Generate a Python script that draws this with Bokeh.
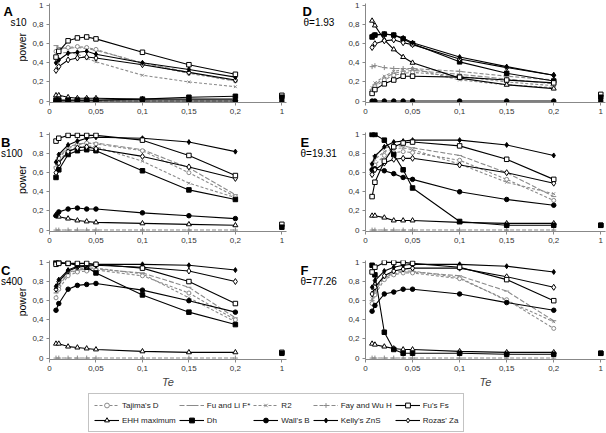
from math import pi
from bokeh.plotting import figure
from bokeh.layouts import column, row
from bokeh.models import Range1d, FixedTicker, Legend, LegendItem
from bokeh.core.properties import value
from bokeh.embed import file_html
from bokeh.resources import INLINE

# ---------------- data ----------------
TE = [0.007, 0.01, 0.02, 0.03, 0.04, 0.05, 0.1, 0.15, 0.2]
TE_ONE_POS = 0.25          # Te = 1 is drawn after a break in the axis
X_TICKS = [0, 0.05, 0.1, 0.15, 0.2, 0.25]
X_TICK_LABELS = ["0", "0,05", "0,1", "0,15", "0,2", "1"]
Y_TICKS = [0, 0.2, 0.4, 0.6, 0.8, 1.0]
Y_TICK_LABELS = ["0", "0,2", "0,4", "0,6", "0,8", "1"]

PANELS = ["A", "B", "C", "D", "E", "F"]
PANEL_TITLES = ["s10", "s100", "s400", "θ=1.93", "θ=19.31", "θ=77.26"]
Y_LABEL = "power"
X_LABEL = "Te"

TAJIMA = {
    "A": [0.52, 0.54, 0.56, 0.57, 0.56, 0.54, 0.39, 0.29, 0.21],
    "B": [0.65, 0.75, 0.86, 0.89, 0.91, 0.90, 0.83, 0.60, 0.35],
    "C": [0.63, 0.72, 0.86, 0.90, 0.91, 0.92, 0.86, 0.68, 0.40],
    "D": [0.10, 0.15, 0.22, 0.27, 0.29, 0.30, 0.26, 0.20, 0.16],
    "E": [0.60, 0.68, 0.78, 0.81, 0.82, 0.81, 0.73, 0.53, 0.31],
    "F": [0.57, 0.66, 0.82, 0.87, 0.89, 0.89, 0.83, 0.61, 0.31],
}
FULI = {
    "A": [0.58, 0.56, 0.55, 0.56, 0.55, 0.53, 0.40, 0.30, 0.21],
    "B": [0.66, 0.76, 0.87, 0.90, 0.91, 0.91, 0.84, 0.65, 0.37],
    "C": [0.68, 0.76, 0.88, 0.92, 0.93, 0.93, 0.89, 0.74, 0.42],
    "D": [0.12, 0.17, 0.24, 0.29, 0.31, 0.32, 0.28, 0.23, 0.18],
    "E": [0.70, 0.78, 0.86, 0.88, 0.88, 0.86, 0.78, 0.60, 0.35],
    "F": [0.60, 0.70, 0.84, 0.88, 0.90, 0.90, 0.86, 0.70, 0.39],
}
R2 = {
    "A": [0.45, 0.50, 0.51, 0.49, 0.45, 0.41, 0.27, 0.20, 0.15],
    "B": [0.62, 0.72, 0.83, 0.87, 0.88, 0.87, 0.72, 0.49, 0.34],
    "C": [0.70, 0.78, 0.89, 0.93, 0.94, 0.94, 0.88, 0.63, 0.38],
    "D": [0.14, 0.19, 0.26, 0.31, 0.33, 0.34, 0.22, 0.17, 0.14],
    "E": [0.66, 0.74, 0.82, 0.85, 0.86, 0.84, 0.69, 0.50, 0.38],
    "F": [0.62, 0.72, 0.85, 0.89, 0.91, 0.91, 0.84, 0.60, 0.38],
}
FWH = {
    "A": [0.0, 0.0, 0.0, 0.0, 0.0, 0.0, 0.0, 0.0, 0.0],
    "B": [0.0, 0.0, 0.0, 0.0, 0.0, 0.0, 0.0, 0.0, 0.0],
    "C": [0.0, 0.0, 0.0, 0.0, 0.0, 0.0, 0.0, 0.0, 0.0],
    "D": [0.36, 0.37, 0.35, 0.34, 0.34, 0.34, 0.31, 0.26, 0.22],
    "E": [0.0, 0.0, 0.0, 0.0, 0.0, 0.0, 0.0, 0.0, 0.0],
    "F": [0.0, 0.0, 0.0, 0.0, 0.0, 0.0, 0.0, 0.0, 0.0],
}
FS = {
    "A": [0.46, 0.52, 0.63, 0.66, 0.67, 0.65, 0.51, 0.38, 0.28],
    "B": [0.93, 0.96, 0.99, 0.99, 0.99, 0.99, 0.94, 0.78, 0.57],
    "C": [0.98, 0.99, 0.99, 0.99, 0.99, 0.98, 0.94, 0.80, 0.57],
    "D": [0.08, 0.12, 0.18, 0.22, 0.26, 0.26, 0.25, 0.22, 0.19],
    "E": [0.35, 0.50, 0.72, 0.87, 0.91, 0.92, 0.88, 0.74, 0.53],
    "F": [0.90, 0.95, 1.00, 1.00, 1.00, 0.99, 0.95, 0.82, 0.60],
}
EHH = {
    "A": [0.06, 0.06, 0.04, 0.03, 0.03, 0.03, 0.02, 0.02, 0.02],
    "B": [0.16, 0.14, 0.12, 0.10, 0.09, 0.08, 0.07, 0.06, 0.05],
    "C": [0.15, 0.15, 0.12, 0.11, 0.10, 0.09, 0.07, 0.06, 0.06],
    "D": [0.84, 0.79, 0.64, 0.54, 0.46, 0.40, 0.24, 0.17, 0.13],
    "E": [0.15, 0.15, 0.13, 0.10, 0.10, 0.10, 0.08, 0.07, 0.07],
    "F": [0.15, 0.14, 0.12, 0.10, 0.09, 0.09, 0.07, 0.06, 0.06],
}
DH = {
    "A": [0.01, 0.01, 0.01, 0.01, 0.01, 0.01, 0.02, 0.04, 0.05],
    "B": [0.55, 0.63, 0.79, 0.83, 0.84, 0.83, 0.62, 0.42, 0.32],
    "C": [1.00, 1.00, 0.99, 0.97, 0.95, 0.89, 0.66, 0.48, 0.35],
    "D": [0.67, 0.69, 0.70, 0.69, 0.65, 0.60, 0.41, 0.29, 0.21],
    "E": [1.00, 1.00, 0.94, 0.79, 0.63, 0.44, 0.09, 0.05, 0.05],
    "F": [0.97, 0.87, 0.27, 0.09, 0.05, 0.05, 0.05, 0.04, 0.04],
}
WALL = {
    "A": [0.0, 0.0, 0.0, 0.0, 0.0, 0.0, 0.0, 0.0, 0.0],
    "B": [0.15, 0.19, 0.22, 0.23, 0.22, 0.22, 0.18, 0.15, 0.12],
    "C": [0.50, 0.57, 0.72, 0.76, 0.77, 0.78, 0.71, 0.60, 0.48],
    "D": [0.0, 0.0, 0.0, 0.0, 0.0, 0.0, 0.0, 0.0, 0.0],
    "E": [0.63, 0.64, 0.62, 0.59, 0.55, 0.53, 0.40, 0.32, 0.26],
    "F": [0.49, 0.55, 0.67, 0.69, 0.72, 0.72, 0.67, 0.58, 0.50],
}
KELLY = {
    "A": [0.40, 0.43, 0.50, 0.51, 0.52, 0.49, 0.40, 0.33, 0.25],
    "B": [0.71, 0.79, 0.89, 0.93, 0.96, 0.97, 0.96, 0.92, 0.82],
    "C": [0.75, 0.82, 0.92, 0.96, 0.97, 0.98, 0.98, 0.97, 0.92],
    "D": [0.68, 0.69, 0.70, 0.69, 0.66, 0.61, 0.46, 0.36, 0.27],
    "E": [0.69, 0.77, 0.87, 0.92, 0.93, 0.94, 0.94, 0.89, 0.78],
    "F": [0.74, 0.81, 0.91, 0.95, 0.97, 0.98, 0.98, 0.96, 0.90],
}
ROZAS = {
    "A": [0.32, 0.36, 0.43, 0.45, 0.46, 0.45, 0.38, 0.30, 0.22],
    "B": [0.60, 0.70, 0.82, 0.86, 0.87, 0.85, 0.77, 0.66, 0.54],
    "C": [0.72, 0.80, 0.91, 0.95, 0.96, 0.97, 0.95, 0.91, 0.80],
    "D": [0.56, 0.60, 0.63, 0.64, 0.61, 0.59, 0.44, 0.35, 0.27],
    "E": [0.58, 0.63, 0.70, 0.74, 0.75, 0.75, 0.68, 0.60, 0.49],
    "F": [0.67, 0.74, 0.86, 0.91, 0.93, 0.94, 0.94, 0.85, 0.74],
}
# values at Te = 1 (isolated points)
FS_AT1 = {"A": 0.06, "B": 0.06, "C": 0.06, "D": 0.07, "E": 0.05, "F": 0.05}
DH_AT1 = {"A": 0.04, "B": 0.03, "C": 0.05, "D": 0.04, "E": 0.05, "F": 0.05}
WALL_AT1 = {"A": 0.0, "D": 0.0}

GREY = "#8a8a8a"
FONT = "Liberation Sans"

# name, data, color, dash, marker, size, fill
SERIES = [
    ("Tajima's D", TAJIMA, GREY, "3 2", "circle", 4, "white"),
    ("Fu and Li F*", FULI, GREY, "5 2", "dash", 5, GREY),
    ("R2", R2, GREY, "3 2", "x", 4, GREY),
    ("Fay and Wu H", FWH, GREY, "4 2", "cross", 5, GREY),
    ("Fu's Fs", FS, "black", "solid", "square", 4.5, "white"),
    ("EHH maximum", EHH, "black", "solid", "triangle", 5, "white"),
    ("Dh", DH, "black", "solid", "square", 4.5, "black"),
    ("Wall's B", WALL, "black", "solid", "circle", 4.5, "black"),
    ("Kelly's ZnS", KELLY, "black", "solid", "diamond", 5, "black"),
    ("Rozas' Za", ROZAS, "black", "solid", "diamond", 6, "white"),
]
DRAW_ORDER = [3, 2, 1, 0, 5, 7, 6, 9, 8, 4]
LEGEND_ORDER = [0, 5, 1, 6, 2, 7, 3, 8, 4, 9]   # column-major fill -> row-wise reading

# ---------------- layout ----------------
ROW_H = [120, 130, 143]
TOP_BORDER = [3, 12, 10]
BOTTOM_BORDER = [18, 19, 34]
LETTER_TOP = [1, 3, 3]
SUB_TOP = [16, 21, 22]
POWER_CY = [53, 62, 60]
LETTER_X_LEFT = [3, 0.5, 0.5]
SUB_X_LEFT = [10, 0.5, 0.5]
LETTER_X_RIGHT = [6, 4, 4]
SUB_X_RIGHT = [7, 4, 4]
LEFT_LABEL_W, LEFT_PANEL_W = 28, 268
RIGHT_LABEL_W, RIGHT_PANEL_W = 48, 262


def make_panel(idx):
    letter = PANELS[idx]
    right = idx >= 3
    r = idx % 3
    bottom = r == 2
    p = figure(width=RIGHT_PANEL_W if right else LEFT_PANEL_W, height=ROW_H[r],
               x_range=Range1d(0, 0.255), y_range=Range1d(-0.015, 1.02),
               toolbar_location=None, output_backend="svg",
               min_border_left=21, min_border_right=1 if right else 10,
               min_border_top=TOP_BORDER[r], min_border_bottom=BOTTOM_BORDER[r])
    p.grid.visible = False
    p.outline_line_color = None

    for ax in (p.xaxis[0], p.yaxis[0]):
        ax.axis_line_color = "#888888"
        ax.major_tick_line_color = "#888888"
        ax.minor_tick_line_color = None
        ax.major_tick_in = 0
        ax.major_tick_out = 3
        ax.major_label_text_font = FONT
        ax.major_label_text_font_size = "8px"
        ax.major_label_text_color = "#333333"
        ax.major_label_standoff = 3
    p.xaxis[0].ticker = FixedTicker(ticks=X_TICKS)
    p.xaxis[0].major_label_overrides = dict(zip(X_TICKS, X_TICK_LABELS))
    p.yaxis[0].ticker = FixedTicker(ticks=Y_TICKS)
    p.yaxis[0].major_label_overrides = dict(zip(Y_TICKS, Y_TICK_LABELS))
    if bottom:
        p.xaxis[0].axis_label = X_LABEL
        p.xaxis[0].axis_label_text_font = FONT
        p.xaxis[0].axis_label_text_font_style = "italic"
        p.xaxis[0].axis_label_text_font_size = "11px"
        p.xaxis[0].axis_label_standoff = 2

    for k in DRAW_ORDER:
        name, data, color, dash, marker, size, fill = SERIES[k]
        ys = data[letter]
        p.line(TE, ys, line_color=color, line_dash=dash, line_width=1.1)
        p.scatter(TE, ys, marker=marker, size=size, line_color=color,
                  fill_color=fill, line_width=1)

    p.scatter([TE_ONE_POS], [FS_AT1[letter]], marker="square", size=4.5,
              line_color="black", fill_color="white")
    p.scatter([TE_ONE_POS], [DH_AT1[letter]], marker="square", size=4.5,
              line_color="black", fill_color="black")
    if letter in WALL_AT1:
        p.scatter([TE_ONE_POS], [WALL_AT1[letter]], marker="circle", size=4.5,
                  line_color="black", fill_color="black")
    return p


def make_label_fig(idx):
    right = idx >= 3
    r = idx % 3
    w = RIGHT_LABEL_W if right else LEFT_LABEL_W
    h = ROW_H[r]
    f = figure(width=w, height=h, x_range=Range1d(0, w), y_range=Range1d(0, h),
               toolbar_location=None, output_backend="svg",
               x_axis_location=None, y_axis_location=None,
               min_border_left=0, min_border_right=0, min_border_top=0, min_border_bottom=0)
    f.grid.visible = False
    f.outline_line_color = None
    lx = LETTER_X_RIGHT[r] if right else LETTER_X_LEFT[r]
    sx = SUB_X_RIGHT[r] if right else SUB_X_LEFT[r]
    f.text(x=[lx], y=[h - LETTER_TOP[r]], text=[PANELS[idx]],
           text_font=value(FONT), text_font_style="bold", text_font_size="13px",
           text_baseline="top", text_color="black")
    f.text(x=[sx], y=[h - SUB_TOP[r]], text=[PANEL_TITLES[idx]],
           text_font=value(FONT), text_font_size="10px", text_baseline="top",
           text_color="black")
    if not right:
        f.text(x=[21.5], y=[h - POWER_CY[r]], text=[Y_LABEL], angle=pi / 2,
               text_font=value(FONT), text_font_size="10.5px",
               text_align="center", text_baseline="middle", text_color="black")
    return f


panels = [make_panel(i) for i in range(6)]
labels = [make_label_fig(i) for i in range(6)]

# legend figure
lg = figure(width=606, height=40, x_range=Range1d(0, 1), y_range=Range1d(0, 1),
            toolbar_location=None, output_backend="svg",
            x_axis_location=None, y_axis_location=None,
            min_border_left=0, min_border_right=0, min_border_top=0, min_border_bottom=0)
lg.grid.visible = False
lg.outline_line_color = None
items = []
for k in LEGEND_ORDER:
    name, data, color, dash, marker, size, fill = SERIES[k]
    lr = lg.line([-10, -9], [-10, -9], line_color=color, line_dash=dash, line_width=1.1)
    sr = lg.scatter([-10], [-10], marker=marker, size=size, line_color=color,
                    fill_color=fill, line_width=1)
    items.append(LegendItem(label=name, renderers=[lr, sr]))
legend = Legend(items=items, ncols=5, location=(88, 1),
                label_text_font=FONT, label_text_font_size="8px",
                label_text_color="#222222",
                glyph_width=25, glyph_height=12, label_standoff=3,
                label_height=12, spacing=3, padding=5, margin=0,
                border_line_color="#888888", border_line_width=1,
                background_fill_alpha=1)
lg.add_layout(legend, "center")

layout = column(
    row(labels[0], panels[0], labels[3], panels[3]),
    row(labels[1], panels[1], labels[4], panels[4]),
    row(labels[2], panels[2], labels[5], panels[5]),
    lg,
)

open("out.html", "w").write(file_html(layout, INLINE))
